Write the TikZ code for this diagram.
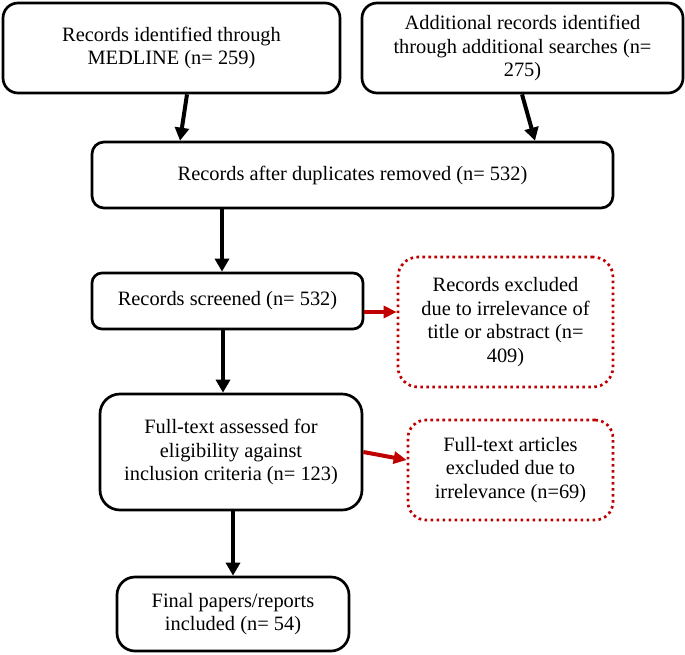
\documentclass[tikz,border=0pt]{standalone}
\usepackage{fontspec}
\setmainfont{Liberation Serif}
\usetikzlibrary{arrows.meta,calc}
\definecolor{exred}{RGB}{192,0,0}
\tikzset{
  boxstyle/.style={draw=black, line width=2.7pt, rounded corners=#1, inner sep=0pt, align=center,
    font=\fontsize{20.4}{23.4}\selectfont},
  boxstyle/.default=14pt,
  exbox/.style={draw=exred, line width=2.7pt, dash pattern=on 2.6pt off 3.4pt, rounded corners=20pt,
    inner sep=0pt, align=center, font=\fontsize{20.4}{23.4}\selectfont},
  flow/.style={line width=4pt, -{Triangle[length=13pt,width=14pt]}},
  exflow/.style={exred, line width=4pt, -{Triangle[length=13pt,width=12pt]}}
}
\begin{document}
\begin{tikzpicture}[x=1pt,y=-1pt]
\useasboundingbox (0,0) rectangle (685,654);
\node[boxstyle=15pt, minimum width=337pt, minimum height=90pt] (b1) at (171.5,48)
  {Records identified through\\MEDLINE (n= 259)};
\node[boxstyle=15pt, minimum width=321pt, minimum height=90pt] (b2) at (522.5,48)
  {Additional records identified\\through additional searches (n=\\275)};
\node[boxstyle=12pt, minimum width=521pt, minimum height=66pt] (b3) at (352.5,175)
  {Records after duplicates removed (n= 532)};
\node[boxstyle=10pt, minimum width=271pt, minimum height=56pt] (b4) at (227.5,301)
  {Records screened (n= 532)};
\node[exbox, minimum width=215pt, minimum height=130pt] (b5) at (505.5,322)
  {Records excluded\\due to irrelevance of\\title or abstract (n=\\409)};
\node[boxstyle=20pt, minimum width=262pt, minimum height=116pt] (b6) at (231,452)
  {Full-text assessed for\\eligibility against\\inclusion criteria (n= 123)};
\node[exbox, rounded corners=18pt, minimum width=205pt, minimum height=100pt] (b7) at (510.5,470)
  {Full-text articles\\excluded due to\\irrelevance (n=69)};
\node[boxstyle=18pt, minimum width=232pt, minimum height=74pt] (b8) at (233,614)
  {Final papers/reports\\included (n= 54)};
% connectors
\draw[flow] ([xshift=15.5pt]b1.south) -- ([xshift=-172.5pt]b3.north);
\draw[flow] ([xshift=-0.5pt]b2.south) -- ([xshift=182.5pt]b3.north);
\coordinate (c34) at ([xshift=-5.5pt]b4.north);
\draw[flow] (c34 |- b3.south) -- (c34);
\coordinate (c46) at ([xshift=-8pt]b6.north);
\draw[flow] (c46 |- b4.south) -- (c46);
\draw[flow] (b8.north |- b6.south) -- (b8.north);
\coordinate (r45) at ([yshift=-11pt]b4.east);
\draw[exflow] (r45) -- (r45 -| b5.west);
\draw[exflow] (b6.east) -- ([yshift=10pt]b7.west);
\end{tikzpicture}
\end{document}
